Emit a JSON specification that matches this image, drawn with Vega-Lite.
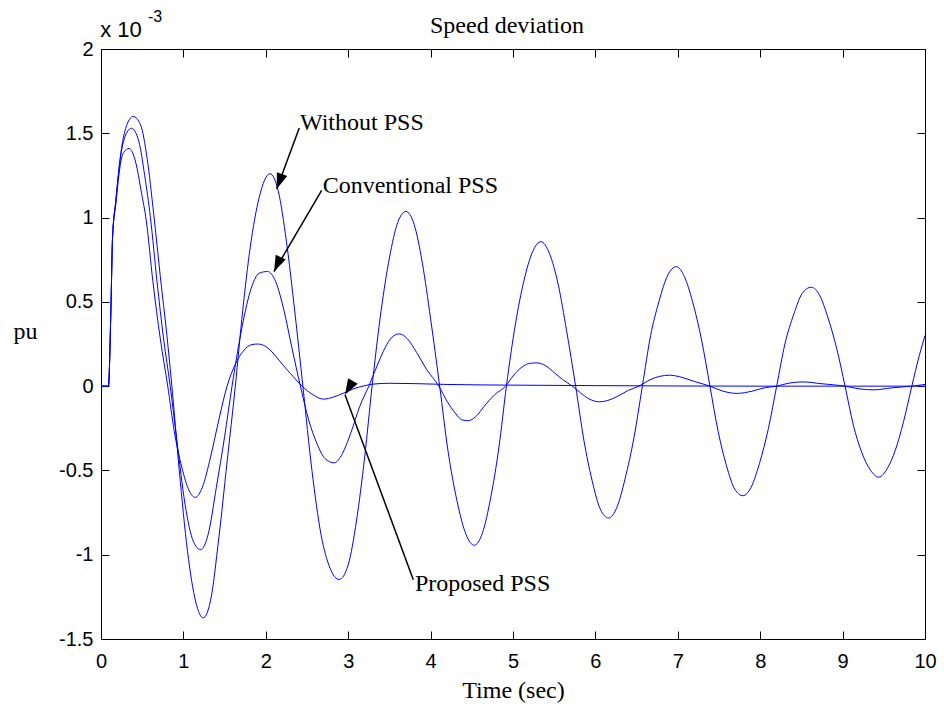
{
  "$schema": "https://vega.github.io/schema/vega-lite/v6.json",
  "width": 824,
  "height": 590,
  "autosize": "none",
  "padding": {"left": 101, "top": 49, "right": 19, "bottom": 69},
  "background": "white",
  "config": {
    "view": {"stroke": null},
    "axis": {
      "grid": false,
      "domainColor": "black",
      "domainWidth": 1,
      "tickColor": "black",
      "tickWidth": 1,
      "tickSize": -8,
      "labelColor": "black",
      "labelFont": "Liberation Sans",
      "labelFontSize": 20,
      "labelFlush": false,
      "labelOverlap": false,
      "titleColor": "black",
      "titleFont": "Liberation Serif",
      "titleFontSize": 24,
      "titleFontWeight": "normal"
    }
  },
  "title": {
    "text": "Speed deviation",
    "font": "Liberation Serif",
    "fontSize": 24,
    "fontWeight": "normal",
    "color": "black",
    "anchor": "middle",
    "baseline": "alphabetic",
    "offset": 17,
    "dy": 65,
    "dx": -6
  },
  "datasets": {
    "curves": [
      {"s": "W", "t": 0, "v": 0}, {"s": "W", "t": 0.09, "v": 0}, {"s": "W", "t": 0.12, "v": 0.45}, {"s": "W", "t": 0.14, "v": 0.88},
      {"s": "W", "t": 0.18, "v": 1.1}, {"s": "W", "t": 0.24, "v": 1.38}, {"s": "W", "t": 0.3, "v": 1.53}, {"s": "W", "t": 0.39, "v": 1.6},
      {"s": "W", "t": 0.48, "v": 1.55}, {"s": "W", "t": 0.56, "v": 1.35}, {"s": "W", "t": 0.64, "v": 1.02}, {"s": "W", "t": 0.72, "v": 0.65},
      {"s": "W", "t": 0.8, "v": 0.3}, {"s": "W", "t": 0.86, "v": 0}, {"s": "W", "t": 0.95, "v": -0.5}, {"s": "W", "t": 1.05, "v": -0.98},
      {"s": "W", "t": 1.15, "v": -1.28}, {"s": "W", "t": 1.24, "v": -1.375}, {"s": "W", "t": 1.33, "v": -1.27}, {"s": "W", "t": 1.43, "v": -0.9},
      {"s": "W", "t": 1.53, "v": -0.45}, {"s": "W", "t": 1.63, "v": 0}, {"s": "W", "t": 1.72, "v": 0.45}, {"s": "W", "t": 1.81, "v": 0.82},
      {"s": "W", "t": 1.92, "v": 1.12}, {"s": "W", "t": 2.05, "v": 1.26}, {"s": "W", "t": 2.15, "v": 1.16}, {"s": "W", "t": 2.25, "v": 0.86},
      {"s": "W", "t": 2.35, "v": 0.45}, {"s": "W", "t": 2.45, "v": 0}, {"s": "W", "t": 2.56, "v": -0.5}, {"s": "W", "t": 2.67, "v": -0.88},
      {"s": "W", "t": 2.78, "v": -1.08}, {"s": "W", "t": 2.89, "v": -1.147}, {"s": "W", "t": 3.0, "v": -1.06}, {"s": "W", "t": 3.1, "v": -0.8},
      {"s": "W", "t": 3.2, "v": -0.42}, {"s": "W", "t": 3.29, "v": 0}, {"s": "W", "t": 3.4, "v": 0.45}, {"s": "W", "t": 3.5, "v": 0.76},
      {"s": "W", "t": 3.6, "v": 0.97}, {"s": "W", "t": 3.7, "v": 1.036}, {"s": "W", "t": 3.8, "v": 0.96}, {"s": "W", "t": 3.9, "v": 0.73},
      {"s": "W", "t": 4.0, "v": 0.4}, {"s": "W", "t": 4.11, "v": 0}, {"s": "W", "t": 4.21, "v": -0.38}, {"s": "W", "t": 4.32, "v": -0.68},
      {"s": "W", "t": 4.43, "v": -0.88}, {"s": "W", "t": 4.53, "v": -0.944}, {"s": "W", "t": 4.63, "v": -0.87}, {"s": "W", "t": 4.73, "v": -0.66},
      {"s": "W", "t": 4.83, "v": -0.36}, {"s": "W", "t": 4.92, "v": 0}, {"s": "W", "t": 5.03, "v": 0.37}, {"s": "W", "t": 5.13, "v": 0.62},
      {"s": "W", "t": 5.24, "v": 0.8}, {"s": "W", "t": 5.34, "v": 0.857}, {"s": "W", "t": 5.44, "v": 0.79}, {"s": "W", "t": 5.55, "v": 0.6},
      {"s": "W", "t": 5.65, "v": 0.33}, {"s": "W", "t": 5.76, "v": 0}, {"s": "W", "t": 5.86, "v": -0.32}, {"s": "W", "t": 5.96, "v": -0.56},
      {"s": "W", "t": 6.06, "v": -0.73}, {"s": "W", "t": 6.16, "v": -0.782}, {"s": "W", "t": 6.26, "v": -0.72}, {"s": "W", "t": 6.36, "v": -0.55},
      {"s": "W", "t": 6.47, "v": -0.3}, {"s": "W", "t": 6.57, "v": 0}, {"s": "W", "t": 6.67, "v": 0.3}, {"s": "W", "t": 6.77, "v": 0.5},
      {"s": "W", "t": 6.88, "v": 0.66}, {"s": "W", "t": 6.98, "v": 0.709}, {"s": "W", "t": 7.08, "v": 0.65}, {"s": "W", "t": 7.18, "v": 0.5},
      {"s": "W", "t": 7.29, "v": 0.27}, {"s": "W", "t": 7.39, "v": 0}, {"s": "W", "t": 7.49, "v": -0.27}, {"s": "W", "t": 7.59, "v": -0.47},
      {"s": "W", "t": 7.69, "v": -0.61}, {"s": "W", "t": 7.79, "v": -0.65}, {"s": "W", "t": 7.89, "v": -0.6}, {"s": "W", "t": 7.99, "v": -0.46},
      {"s": "W", "t": 8.1, "v": -0.25}, {"s": "W", "t": 8.2, "v": 0}, {"s": "W", "t": 8.3, "v": 0.25}, {"s": "W", "t": 8.41, "v": 0.43},
      {"s": "W", "t": 8.51, "v": 0.55}, {"s": "W", "t": 8.62, "v": 0.587}, {"s": "W", "t": 8.72, "v": 0.54}, {"s": "W", "t": 8.82, "v": 0.41},
      {"s": "W", "t": 8.93, "v": 0.22}, {"s": "W", "t": 9.03, "v": 0}, {"s": "W", "t": 9.13, "v": -0.23}, {"s": "W", "t": 9.23, "v": -0.39},
      {"s": "W", "t": 9.34, "v": -0.5}, {"s": "W", "t": 9.44, "v": -0.54}, {"s": "W", "t": 9.54, "v": -0.49}, {"s": "W", "t": 9.64, "v": -0.38},
      {"s": "W", "t": 9.74, "v": -0.21}, {"s": "W", "t": 9.84, "v": 0}, {"s": "W", "t": 9.93, "v": 0.18}, {"s": "W", "t": 10.0, "v": 0.3},

      {"s": "C", "t": 0, "v": 0}, {"s": "C", "t": 0.09, "v": 0}, {"s": "C", "t": 0.12, "v": 0.45}, {"s": "C", "t": 0.14, "v": 0.88},
      {"s": "C", "t": 0.18, "v": 1.1}, {"s": "C", "t": 0.24, "v": 1.37}, {"s": "C", "t": 0.3, "v": 1.49}, {"s": "C", "t": 0.37, "v": 1.53},
      {"s": "C", "t": 0.46, "v": 1.45}, {"s": "C", "t": 0.53, "v": 1.25}, {"s": "C", "t": 0.6, "v": 1.0}, {"s": "C", "t": 0.68, "v": 0.62},
      {"s": "C", "t": 0.76, "v": 0.28}, {"s": "C", "t": 0.84, "v": 0}, {"s": "C", "t": 0.92, "v": -0.32}, {"s": "C", "t": 1.02, "v": -0.7},
      {"s": "C", "t": 1.12, "v": -0.92}, {"s": "C", "t": 1.21, "v": -0.97}, {"s": "C", "t": 1.3, "v": -0.88}, {"s": "C", "t": 1.4, "v": -0.6},
      {"s": "C", "t": 1.5, "v": -0.3}, {"s": "C", "t": 1.59, "v": 0}, {"s": "C", "t": 1.7, "v": 0.32}, {"s": "C", "t": 1.81, "v": 0.56},
      {"s": "C", "t": 1.92, "v": 0.67}, {"s": "C", "t": 2.02, "v": 0.68}, {"s": "C", "t": 2.12, "v": 0.62}, {"s": "C", "t": 2.22, "v": 0.45},
      {"s": "C", "t": 2.32, "v": 0.22}, {"s": "C", "t": 2.42, "v": 0}, {"s": "C", "t": 2.52, "v": -0.2}, {"s": "C", "t": 2.62, "v": -0.34},
      {"s": "C", "t": 2.72, "v": -0.43}, {"s": "C", "t": 2.83, "v": -0.455}, {"s": "C", "t": 2.93, "v": -0.4}, {"s": "C", "t": 3.03, "v": -0.28},
      {"s": "C", "t": 3.14, "v": -0.12}, {"s": "C", "t": 3.25, "v": 0}, {"s": "C", "t": 3.35, "v": 0.12}, {"s": "C", "t": 3.45, "v": 0.23},
      {"s": "C", "t": 3.53, "v": 0.29}, {"s": "C", "t": 3.62, "v": 0.31}, {"s": "C", "t": 3.72, "v": 0.28}, {"s": "C", "t": 3.83, "v": 0.2},
      {"s": "C", "t": 3.95, "v": 0.1}, {"s": "C", "t": 4.1, "v": 0}, {"s": "C", "t": 4.2, "v": -0.09}, {"s": "C", "t": 4.3, "v": -0.16},
      {"s": "C", "t": 4.38, "v": -0.2}, {"s": "C", "t": 4.45, "v": -0.205}, {"s": "C", "t": 4.55, "v": -0.18}, {"s": "C", "t": 4.65, "v": -0.12},
      {"s": "C", "t": 4.78, "v": -0.05}, {"s": "C", "t": 4.91, "v": 0}, {"s": "C", "t": 5.0, "v": 0.06}, {"s": "C", "t": 5.1, "v": 0.11},
      {"s": "C", "t": 5.2, "v": 0.135}, {"s": "C", "t": 5.29, "v": 0.138}, {"s": "C", "t": 5.4, "v": 0.12}, {"s": "C", "t": 5.5, "v": 0.08},
      {"s": "C", "t": 5.6, "v": 0.04}, {"s": "C", "t": 5.72, "v": 0}, {"s": "C", "t": 5.82, "v": -0.04}, {"s": "C", "t": 5.92, "v": -0.075},
      {"s": "C", "t": 6.05, "v": -0.093}, {"s": "C", "t": 6.15, "v": -0.085}, {"s": "C", "t": 6.27, "v": -0.06}, {"s": "C", "t": 6.4, "v": -0.025},
      {"s": "C", "t": 6.53, "v": 0}, {"s": "C", "t": 6.65, "v": 0.035}, {"s": "C", "t": 6.78, "v": 0.058}, {"s": "C", "t": 6.9, "v": 0.065},
      {"s": "C", "t": 7.02, "v": 0.056}, {"s": "C", "t": 7.2, "v": 0.028}, {"s": "C", "t": 7.39, "v": 0}, {"s": "C", "t": 7.55, "v": -0.03},
      {"s": "C", "t": 7.72, "v": -0.043}, {"s": "C", "t": 7.9, "v": -0.03}, {"s": "C", "t": 8.05, "v": -0.01}, {"s": "C", "t": 8.2, "v": 0},
      {"s": "C", "t": 8.35, "v": 0.018}, {"s": "C", "t": 8.52, "v": 0.025}, {"s": "C", "t": 8.75, "v": 0.014}, {"s": "C", "t": 9.03, "v": 0},
      {"s": "C", "t": 9.2, "v": -0.016}, {"s": "C", "t": 9.38, "v": -0.022}, {"s": "C", "t": 9.6, "v": -0.01}, {"s": "C", "t": 9.84, "v": 0},
      {"s": "C", "t": 10.0, "v": 0.01},

      {"s": "P", "t": 0, "v": 0}, {"s": "P", "t": 0.09, "v": 0}, {"s": "P", "t": 0.12, "v": 0.45}, {"s": "P", "t": 0.14, "v": 0.88},
      {"s": "P", "t": 0.18, "v": 1.08}, {"s": "P", "t": 0.24, "v": 1.33}, {"s": "P", "t": 0.28, "v": 1.39}, {"s": "P", "t": 0.34, "v": 1.41},
      {"s": "P", "t": 0.42, "v": 1.33}, {"s": "P", "t": 0.49, "v": 1.15}, {"s": "P", "t": 0.55, "v": 0.98}, {"s": "P", "t": 0.63, "v": 0.62},
      {"s": "P", "t": 0.72, "v": 0.28}, {"s": "P", "t": 0.81, "v": 0}, {"s": "P", "t": 0.89, "v": -0.27}, {"s": "P", "t": 0.98, "v": -0.48},
      {"s": "P", "t": 1.07, "v": -0.62}, {"s": "P", "t": 1.145, "v": -0.66}, {"s": "P", "t": 1.23, "v": -0.6}, {"s": "P", "t": 1.33, "v": -0.42},
      {"s": "P", "t": 1.43, "v": -0.2}, {"s": "P", "t": 1.53, "v": 0}, {"s": "P", "t": 1.63, "v": 0.13}, {"s": "P", "t": 1.73, "v": 0.21},
      {"s": "P", "t": 1.82, "v": 0.245}, {"s": "P", "t": 1.9, "v": 0.25}, {"s": "P", "t": 2.0, "v": 0.235}, {"s": "P", "t": 2.1, "v": 0.19},
      {"s": "P", "t": 2.2, "v": 0.13}, {"s": "P", "t": 2.3, "v": 0.075}, {"s": "P", "t": 2.44, "v": 0}, {"s": "P", "t": 2.57, "v": -0.05},
      {"s": "P", "t": 2.7, "v": -0.077}, {"s": "P", "t": 2.82, "v": -0.065}, {"s": "P", "t": 2.95, "v": -0.04}, {"s": "P", "t": 3.07, "v": -0.015},
      {"s": "P", "t": 3.18, "v": 0}, {"s": "P", "t": 3.3, "v": 0.012}, {"s": "P", "t": 3.5, "v": 0.017}, {"s": "P", "t": 3.8, "v": 0.015},
      {"s": "P", "t": 4.2, "v": 0.01}, {"s": "P", "t": 5.0, "v": 0.006}, {"s": "P", "t": 6.0, "v": 0.003}, {"s": "P", "t": 7.0, "v": 0.001},
      {"s": "P", "t": 8.0, "v": 0}, {"s": "P", "t": 10.0, "v": 0}
    ],
    "arrows": [
      {"label": "W", "t": 2.406, "v": 1.531, "t2": 2.132, "v2": 1.169},
      {"label": "C", "t": 2.678, "v": 1.161, "t2": 2.1, "v2": 0.68},
      {"label": "P", "t": 3.79, "v": -1.148, "t2": 2.961, "v2": -0.051}
    ],
    "notes": [
      {"text": "Without PSS", "t": 2.415, "v": 1.521},
      {"text": "Conventional PSS", "t": 2.69, "v": 1.145},
      {"text": "Proposed PSS", "t": 3.81, "v": -1.218}
    ],
    "exponent": [
      {"text": "x 10", "t": -0.01, "v": 2.072}
    ],
    "power": [
      {"text": "-3", "t": 0.57, "v": 2.161}
    ]
  },
  "layer": [
    {
      "data": {"name": "curves"},
      "mark": {"type": "line", "color": "#0000ff", "strokeWidth": 1, "interpolate": "monotone"},
      "encoding": {
        "x": {
          "field": "t", "type": "quantitative",
          "scale": {"domain": [0, 10], "nice": false, "zero": false},
          "axis": {
            "orient": "bottom",
            "values": [0, 1, 2, 3, 4, 5, 6, 7, 8, 9, 10],
            "labelPadding": 20,
            "title": "Time (sec)",
            "titleY": 58,
            "titleBaseline": "alphabetic"
          }
        },
        "y": {
          "field": "v", "type": "quantitative",
          "scale": {"domain": [-1.5, 2], "nice": false, "zero": false},
          "axis": {
            "orient": "left",
            "values": [-1.5, -1, -0.5, 0, 0.5, 1, 1.5, 2],
            "labelExpr": "'' + datum.value",
            "labelPadding": 16,
            "title": "pu",
            "titleAngle": 0,
            "titleAlign": "left",
            "titleBaseline": "alphabetic",
            "titleX": -88,
            "titleY": 289
          }
        },
        "detail": {"field": "s"}
      }
    },
    {
      "data": {"name": "arrows"},
      "mark": {"type": "rule", "color": "black", "strokeWidth": 1.5},
      "encoding": {
        "x": {
          "field": "t", "type": "quantitative",
          "axis": {"orient": "top", "values": [0, 1, 2, 3, 4, 5, 6, 7, 8, 9, 10], "labels": false, "title": null}
        },
        "y": {
          "field": "v", "type": "quantitative",
          "axis": {"orient": "right", "values": [-1.5, -1, -0.5, 0, 0.5, 1, 1.5, 2], "labels": false, "title": null}
        },
        "x2": {"field": "t2"},
        "y2": {"field": "v2"}
      }
    },
    {
      "data": {"name": "arrows"},
      "mark": {"type": "point", "shape": "M0,0L-0.35,1L0.35,1Z", "filled": true, "color": "black", "opacity": 1, "size": 1000, "strokeWidth": 0},
      "encoding": {
        "x": {"field": "t2", "type": "quantitative", "axis": null},
        "y": {"field": "v2", "type": "quantitative", "axis": null},
        "angle": {"field": "label", "type": "nominal", "scale": {"domain": ["W", "C", "P"], "range": [200, 210, 340]}, "legend": null}
      }
    },
    {
      "data": {"name": "notes"},
      "mark": {"type": "text", "align": "left", "baseline": "alphabetic", "font": "Liberation Serif", "fontSize": 24, "color": "black"},
      "encoding": {
        "x": {"field": "t", "type": "quantitative", "axis": null},
        "y": {"field": "v", "type": "quantitative", "axis": null},
        "text": {"field": "text"}
      }
    },
    {
      "data": {"name": "exponent"},
      "mark": {"type": "text", "align": "left", "baseline": "alphabetic", "font": "Liberation Sans", "fontSize": 22, "color": "black"},
      "encoding": {
        "x": {"field": "t", "type": "quantitative", "axis": null},
        "y": {"field": "v", "type": "quantitative", "axis": null},
        "text": {"field": "text"}
      }
    },
    {
      "data": {"name": "power"},
      "mark": {"type": "text", "align": "left", "baseline": "alphabetic", "font": "Liberation Sans", "fontSize": 16, "color": "black"},
      "encoding": {
        "x": {"field": "t", "type": "quantitative", "axis": null},
        "y": {"field": "v", "type": "quantitative", "axis": null},
        "text": {"field": "text"}
      }
    }
  ],
  "resolve": {"axis": {"x": "independent", "y": "independent"}}
}
